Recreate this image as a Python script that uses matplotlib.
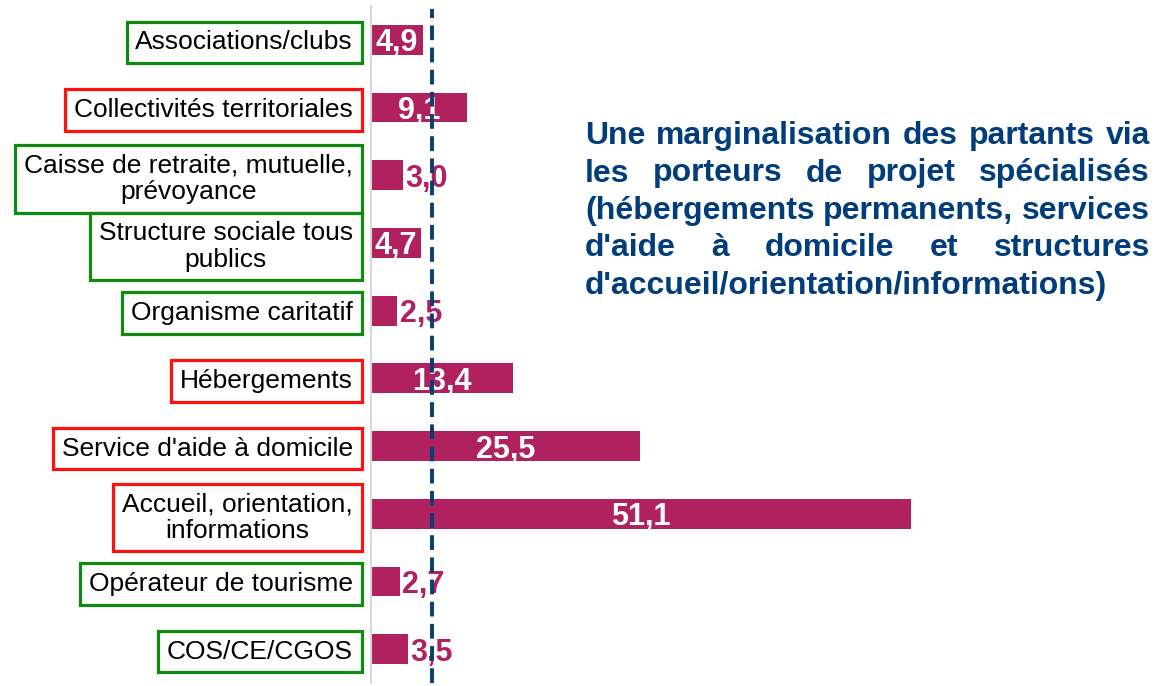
import matplotlib
matplotlib.use("Agg")
import matplotlib.pyplot as plt
from matplotlib.transforms import IdentityTransform
import numpy as np

plt.rcParams['font.family'] = ['Liberation Sans', 'DejaVu Sans']

categories = [
    "Associations/clubs",
    "Collectivités territoriales",
    "Caisse de retraite, mutuelle,\nprévoyance",
    "Structure sociale tous\npublics",
    "Organisme caritatif",
    "Hébergements",
    "Service d'aide à domicile",
    "Accueil, orientation,\ninformations",
    "Opérateur de tourisme",
    "COS/CE/CGOS",
]
values = [4.9, 9.1, 3.0, 4.7, 2.5, 13.4, 25.5, 51.1, 2.7, 3.5]
box_colors = ["green", "red", "green", "green", "green", "red", "red", "red", "green", "green"]
average = 5.8
note_lines = [
    "Une marginalisation des partants via",
    "les porteurs de projet spécialisés",
    "(hébergements permanents, services",
    "d'aide à domicile et structures",
    "d'accueil/orientation/informations)",
]

BAR = "#B02160"
BLUE_TXT = "#003D7A"
BLUE_LINE = "#0A3D74"
EDGE = {"green": "#108A10", "red": "#FF1010"}

W, H = 1155, 686
fig = plt.figure(figsize=(W / 100, H / 100), dpi=100)
ax = fig.add_axes([371 / W, 3 / H, 581 / W, 677 / H])

y = np.arange(len(categories))
ax.barh(y, values, height=0.44, color=BAR, zorder=2)
ax.set_xlim(0, 55)
ax.set_ylim(len(categories) - 0.5, -0.5)

ax.set_xticks([])
ax.set_yticks(y)
ax.set_yticklabels(categories, fontsize=19)
ax.tick_params(axis='y', length=0, pad=13)
for lab, c in zip(ax.get_yticklabels(), box_colors):
    lab.set_multialignment('center')
    lab.set_linespacing(1.12)
    lab.set_bbox(dict(boxstyle="square,pad=0.33", facecolor="white",
                      edgecolor=EDGE[c], linewidth=2.3))

for s in ["top", "right", "bottom"]:
    ax.spines[s].set_visible(False)
ax.spines["left"].set_color("#D9D9D9")
ax.spines["left"].set_linewidth(1.5)

for yi, v in zip(y, values):
    txt = f"{v:.1f}".replace(".", ",")
    if v >= 4.5:
        ax.text(v / 2, yi, txt, ha="center", va="center_baseline", color="white",
                fontsize=22, fontweight="bold", zorder=3)
    else:
        ax.annotate(txt, (v, yi), xytext=(2, 0), textcoords="offset points",
                    ha="left", va="center_baseline", color=BAR, fontsize=22,
                    fontweight="bold", zorder=3)

ax.axvline(average, ymin=0, ymax=0.995, color=BLUE_LINE, linewidth=2.8,
           linestyle=(0, (3.8, 1.9)), zorder=5, clip_on=False)

# justified note text
renderer = fig.canvas.get_renderer()
x0, x1 = 585, 1150
base0, lh = 144, 37.5
ident = IdentityTransform()
kw = dict(fontsize=23, fontweight="bold", color=BLUE_TXT, va="baseline",
          ha="left", transform=ident)
probe = fig.text(0, 0, "a a", **kw)
probe2 = fig.text(0, 0, "aa", **kw)
space_w = probe.get_window_extent(renderer).width - probe2.get_window_extent(renderer).width
probe.remove(); probe2.remove()
for i, line in enumerate(note_lines):
    words = line.split()
    yb = H - (base0 + lh * i)
    texts = [fig.text(0, yb, w, **kw) for w in words]
    widths = [t.get_window_extent(renderer).width for t in texts]
    last = i == len(note_lines) - 1
    if len(words) > 1 and not last:
        gap = (x1 - x0 - sum(widths)) / (len(words) - 1)
    else:
        gap = space_w
    x = x0
    for t, wd in zip(texts, widths):
        t.set_position((x, yb))
        x += wd + gap

fig.savefig("out.png", dpi=100)
